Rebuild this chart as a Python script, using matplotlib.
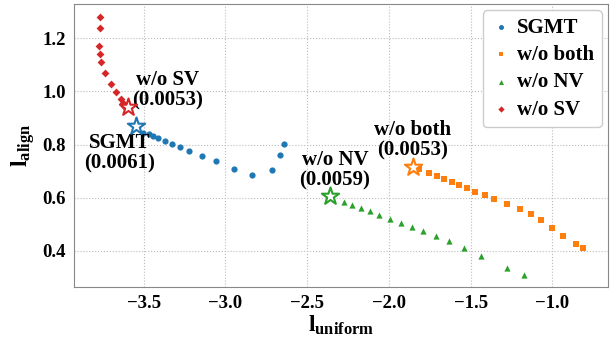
import matplotlib
matplotlib.use('Agg')
import matplotlib.pyplot as plt

plt.rcParams['font.family'] = 'Liberation Serif'
plt.rcParams['font.weight'] = 'bold'
plt.rcParams['mathtext.fontset'] = 'custom'
plt.rcParams['mathtext.rm'] = 'Liberation Serif:bold'
plt.rcParams['mathtext.bf'] = 'Liberation Serif:bold'

# (uniform, align) pairs; first point of each is the starred one
sgmt_x = [-3.549, -3.502, -3.468, -3.441, -3.411, -3.370, -3.329, -3.276, -3.221,
          -3.144, -3.060, -2.946, -2.836, -2.718, -2.669, -2.644]
sgmt_y = [0.870, 0.845, 0.840, 0.832, 0.825, 0.812, 0.802, 0.790, 0.776,
          0.758, 0.738, 0.707, 0.687, 0.705, 0.760, 0.801]

both_x = [-1.852, -1.815, -1.756, -1.707, -1.663, -1.616, -1.569, -1.522, -1.471,
          -1.414, -1.355, -1.278, -1.198, -1.133, -1.070, -1.002, -0.933, -0.856, -0.811]
both_y = [0.717, 0.707, 0.694, 0.683, 0.672, 0.660, 0.649, 0.636, 0.623,
          0.610, 0.595, 0.578, 0.559, 0.540, 0.516, 0.485, 0.454, 0.426, 0.411]

nv_x = [-2.361, -2.276, -2.223, -2.170, -2.115, -2.058, -1.993, -1.925, -1.858,
        -1.791, -1.713, -1.632, -1.538, -1.438, -1.278, -1.175]
nv_y = [0.607, 0.584, 0.573, 0.562, 0.548, 0.536, 0.521, 0.506, 0.491,
        0.475, 0.456, 0.436, 0.410, 0.381, 0.337, 0.308]

sv_x = [-3.594, -3.612, -3.618, -3.628, -3.641, -3.671, -3.702, -3.738, -3.763,
        -3.769, -3.771, -3.769, -3.765]
sv_y = [0.943, 0.940, 0.946, 0.958, 0.970, 0.998, 1.029, 1.069, 1.111,
        1.141, 1.172, 1.239, 1.281]

series = [
    ('SGMT', sgmt_x, sgmt_y, 'o', '#1f77b4'),
    ('w/o both', both_x, both_y, 's', '#ff7f0e'),
    ('w/o NV', nv_x, nv_y, '^', '#2ca02c'),
    ('w/o SV', sv_x, sv_y, 'D', '#d62728'),
]

# label text and where it sits (data coords)
labels = [
    ('SGMT\n(0.0061)', -3.645, 0.768),
    ('w/o both\n(0.0053)', -1.853, 0.817),
    ('w/o NV\n(0.0059)', -2.330, 0.704),
    ('w/o SV\n(0.0053)', -3.351, 1.005),
]

fig = plt.figure(figsize=(6.13, 3.44), dpi=100)
ax = fig.add_axes([0.1207, 0.166, 0.871, 0.822])

for (name, xs, ys, mk, col) in series:
    ax.scatter(xs[1:], ys[1:], marker=mk, s=20 if mk != 'D' else 16, color=col,
               label=name, zorder=3, linewidths=0)
    ax.scatter(xs[:1], ys[:1], marker='*', s=170, facecolor='white',
               edgecolor=col, linewidths=1.5, zorder=4)

for (txt, tx, ty) in labels:
    ax.text(tx, ty, txt, ha='center', va='center', fontsize=15,
            fontweight='bold', linespacing=1.0)

ax.set_xlim(-3.926, -0.661)
ax.set_ylim(0.264, 1.329)
ax.set_xticks([-3.5, -3.0, -2.5, -2.0, -1.5, -1.0])
ax.set_yticks([0.4, 0.6, 0.8, 1.0, 1.2])
ax.grid(True, linestyle=':', color='#bbbbbb', linewidth=0.8)
ax.set_axisbelow(True)
ax.tick_params(length=0, labelsize=13.5, pad=6)
for s in ax.spines.values():
    s.set_color('#888888')

ax.set_xlabel(r'$\mathbf{l_{uniform}}$', fontsize=17, labelpad=1)
ax.set_ylabel(r'$\mathbf{l_{align}}$', fontsize=17, labelpad=4)

ax.legend(loc='upper right', fontsize=15, markerscale=0.8, handletextpad=0.3,
          borderpad=0.35, labelspacing=0.35, handlelength=1.0, framealpha=1.0,
          edgecolor='#cccccc', borderaxespad=0.3)

fig.savefig('out.png', dpi=100)
